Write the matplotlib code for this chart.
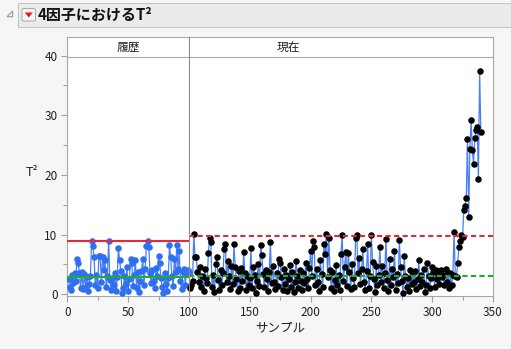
import numpy as np
import matplotlib
matplotlib.use("Agg")
import matplotlib.pyplot as plt
from matplotlib.patches import Rectangle, FancyBboxPatch, Polygon

plt.rcParams['font.family'] = ['Noto Sans CJK JP', 'DejaVu Sans']

# T² values, historical samples 1-100
hist_t2 = [
    2.5, 1.2, 0.8, 3.3, 1.9, 3.5, 2.2, 6.0, 5.2, 3.6,
    1.0, 3.8, 0.9, 3.4, 1.3, 2.9, 0.6, 1.7, 3.1, 9.0,
    8.1, 6.3, 1.5, 3.2, 1.1, 6.5, 6.4, 2.0, 6.3, 4.1,
    5.7, 1.2, 3.0, 9.0, 2.4, 0.8, 2.7, 1.5, 3.6, 0.5,
    2.9, 7.7, 5.7, 3.9, 0.3, 1.0, 3.0, 1.8, 4.5, 0.6,
    2.6, 6.0, 5.2, 1.4, 3.3, 5.7, 1.1, 3.8, 0.4, 2.2,
    3.9, 6.0, 1.6, 4.3, 8.1, 9.0, 7.9, 3.5, 1.9, 4.0,
    2.3, 1.0, 4.4, 3.1, 6.5, 5.2, 2.7, 1.3, 0.2, 3.6,
    1.7, 0.5, 2.8, 8.2, 6.3, 3.0, 1.4, 6.0, 3.8, 8.3,
    4.3, 7.3, 2.2, 0.9, 3.7, 4.2, 1.6, 3.5, 4.1, 3.8,
]

# T² values, current samples 101-340
cur_t2 = [
    1.0, 1.6, 2.3, 10.1, 6.3, 6.3, 3.8, 2.1, 4.5, 1.3,
    3.0, 0.6, 4.2, 2.7, 1.9, 7.0, 9.4, 8.8, 1.2, 3.3,
    0.4, 5.0, 6.2, 2.4, 0.8, 4.0, 1.5, 3.6, 7.6, 8.4,
    2.0, 5.5, 3.1, 0.9, 4.8, 1.7, 8.4, 4.6, 2.5, 0.5,
    3.9, 1.1, 4.4, 2.2, 7.1, 3.5, 0.7, 3.0, 1.6, 2.8,
    7.8, 1.0, 4.6, 3.2, 0.3, 2.3, 5.1, 1.4, 8.3, 6.6,
    3.4, 1.2, 4.1, 2.6, 0.6, 3.8, 8.8, 1.9, 4.7, 2.0,
    0.9, 3.5, 1.4, 6.0, 5.2, 2.9, 0.8, 4.3, 1.8, 3.3,
    0.5, 2.5, 4.9, 1.3, 3.7, 0.4, 2.1, 5.6, 3.0, 1.1,
    4.0, 2.3, 0.7, 3.6, 1.9, 5.3, 2.6, 1.0, 4.4, 7.3,
    3.1, 8.9, 7.9, 1.5, 4.2, 2.0, 0.6, 5.7, 3.4, 1.2,
    8.5, 6.8, 10.1, 2.9, 9.5, 4.1, 1.0, 3.7, 0.5, 2.4,
    4.9, 1.6, 3.2, 0.8, 6.7, 9.9, 2.2, 4.6, 7.1, 1.4,
    7.0, 3.8, 0.9, 5.0, 2.7, 1.3, 9.5, 9.9, 3.5, 6.1,
    1.8, 4.3, 7.6, 2.1, 0.7, 3.9, 8.4, 1.1, 3.0, 9.9,
    5.4, 2.5, 0.4, 4.7, 1.6, 3.3, 8.0, 2.0, 4.8, 1.0,
    3.6, 9.3, 2.4, 0.6, 5.9, 1.5, 4.2, 2.9, 7.2, 0.8,
    3.4, 1.9, 9.1, 4.5, 2.2, 0.3, 6.4, 3.1, 1.2, 2.7,
    0.5, 4.0, 1.7, 3.5, 2.0, 3.9, 0.9, 2.6, 5.8, 1.4,
    3.2, 2.1, 4.3, 0.4, 1.6, 5.3, 3.0, 1.0, 2.8, 4.6,
    3.7, 1.3, 4.1, 2.5, 3.4, 1.8, 4.0, 2.9, 3.3, 1.5,
    4.2, 2.1, 3.6, 1.0, 3.5, 1.5, 3.2, 10.5, 3.0, 2.9,
    5.3, 8.0, 9.0, 9.9, 9.6, 14.1, 14.8, 16.2, 26.0, 13.0,
    24.4, 29.2, 24.2, 21.8, 26.1, 27.5, 28.0, 19.3, 37.4, 27.2,
]

hist_ucl = 8.85
hist_center = 2.95
cur_ucl = 9.77
cur_center = 3.07

W, H = 511, 349


def fx(px):
    return px / W


def fy(py):
    return 1 - py / H


fig = plt.figure(figsize=(W / 100, H / 100), dpi=100)
fig.patch.set_facecolor('#f6f6f6')

# title bar
fig.patches.append(Rectangle((fx(18), fy(27)), fx(511) - fx(18), fy(3) - fy(27),
                             transform=fig.transFigure, facecolor='#ebebeb',
                             edgecolor='#c6c6c6', lw=0.8))
fig.patches.append(Polygon([(fx(7), fy(16.7)), (fx(12.7), fy(11)), (fx(12.7), fy(16.7))],
                           closed=True, transform=fig.transFigure,
                           facecolor='#f0f0f0', edgecolor='#909090', lw=0.7))
fig.patches.append(FancyBboxPatch((fx(22), fy(21)), fx(35.5) - fx(22), fy(8.5) - fy(21),
                                  boxstyle='round,pad=0,rounding_size=0.004',
                                  transform=fig.transFigure, facecolor='#f4f4f4',
                                  edgecolor='#a8a8a8', lw=0.7))
fig.patches.append(Polygon([(fx(24.8), fy(12.5)), (fx(32.8), fy(12.5)), (fx(28.8), fy(17.5))],
                           closed=True, transform=fig.transFigure,
                           facecolor='#d8202a', edgecolor='none'))
fig.text(fx(38), fy(15), '4因子におけるT²', fontsize=10.8, fontweight='bold',
         ha='left', va='center', color='#111111')

ax = fig.add_axes([fx(67.3), fy(296), fx(493) - fx(67.3), fy(37.3) - fy(296)])
ax.set_facecolor('white')

x_hist = np.arange(1, len(hist_t2) + 1)
x_cur = np.arange(len(hist_t2) + 1, len(hist_t2) + len(cur_t2) + 1)
x_all = np.concatenate([x_hist, x_cur])
y_all = np.array(hist_t2 + cur_t2)

ax.plot(x_all, y_all, color='#4a80f2', lw=0.9, zorder=2)
ax.plot(x_hist, hist_t2, 'o', color='#2f6ff2', ms=4.7, mec='none', zorder=3)
ax.plot(x_cur, cur_t2, 'o', color='black', ms=4.7, mec='none', zorder=3)

ax.plot([0, 100], [hist_ucl, hist_ucl], color='#e6283c', lw=1.5, zorder=4)
ax.plot([0, 100], [hist_center, hist_center], color='#1fae2a', lw=1.5, zorder=4)
ax.plot([100, 350], [cur_ucl, cur_ucl], color='#e6283c', lw=1.5, dashes=(2.5, 1.6), zorder=4)
ax.plot([100, 350], [cur_center, cur_center], color='#1fae2a', lw=1.5, dashes=(2.5, 1.6), zorder=4)

# phase header band
ax.axhline(39.8, color='#a8a8a8', lw=0.8, zorder=5)
ax.axvline(100, color='#8c8c8c', lw=0.8, zorder=5)
ax.text(50, 41.45, '履歴', ha='center', va='center', fontsize=8.5, color='#222222')
ax.text(182, 41.45, '現在', ha='center', va='center', fontsize=8.5, color='#222222')

ax.set_xlim(0, 350)
ax.set_ylim(-0.28, 43.05)
ax.set_xticks(np.arange(0, 351, 50))
ax.set_xticks(np.arange(25, 350, 50), minor=True)
ax.set_yticks(np.arange(0, 41, 10))
ax.set_yticks(np.arange(5, 40, 10), minor=True)
ax.tick_params(which='major', length=4, width=0.8, color='#a0a0a0', labelsize=8.5,
               labelcolor='#222222', pad=3)
ax.tick_params(which='minor', length=3, width=0.8, color='#a0a0a0')
for s in ax.spines.values():
    s.set_color('#a8a8a8')
    s.set_linewidth(0.8)

fig.text(fx(32), fy(172), 'T²', fontsize=9, ha='center', va='center', color='#222222')
fig.text(fx(280), fy(328), 'サンプル', fontsize=9, ha='center', va='center', color='#222222')

fig.savefig('out.png', dpi=100, facecolor=fig.get_facecolor())
